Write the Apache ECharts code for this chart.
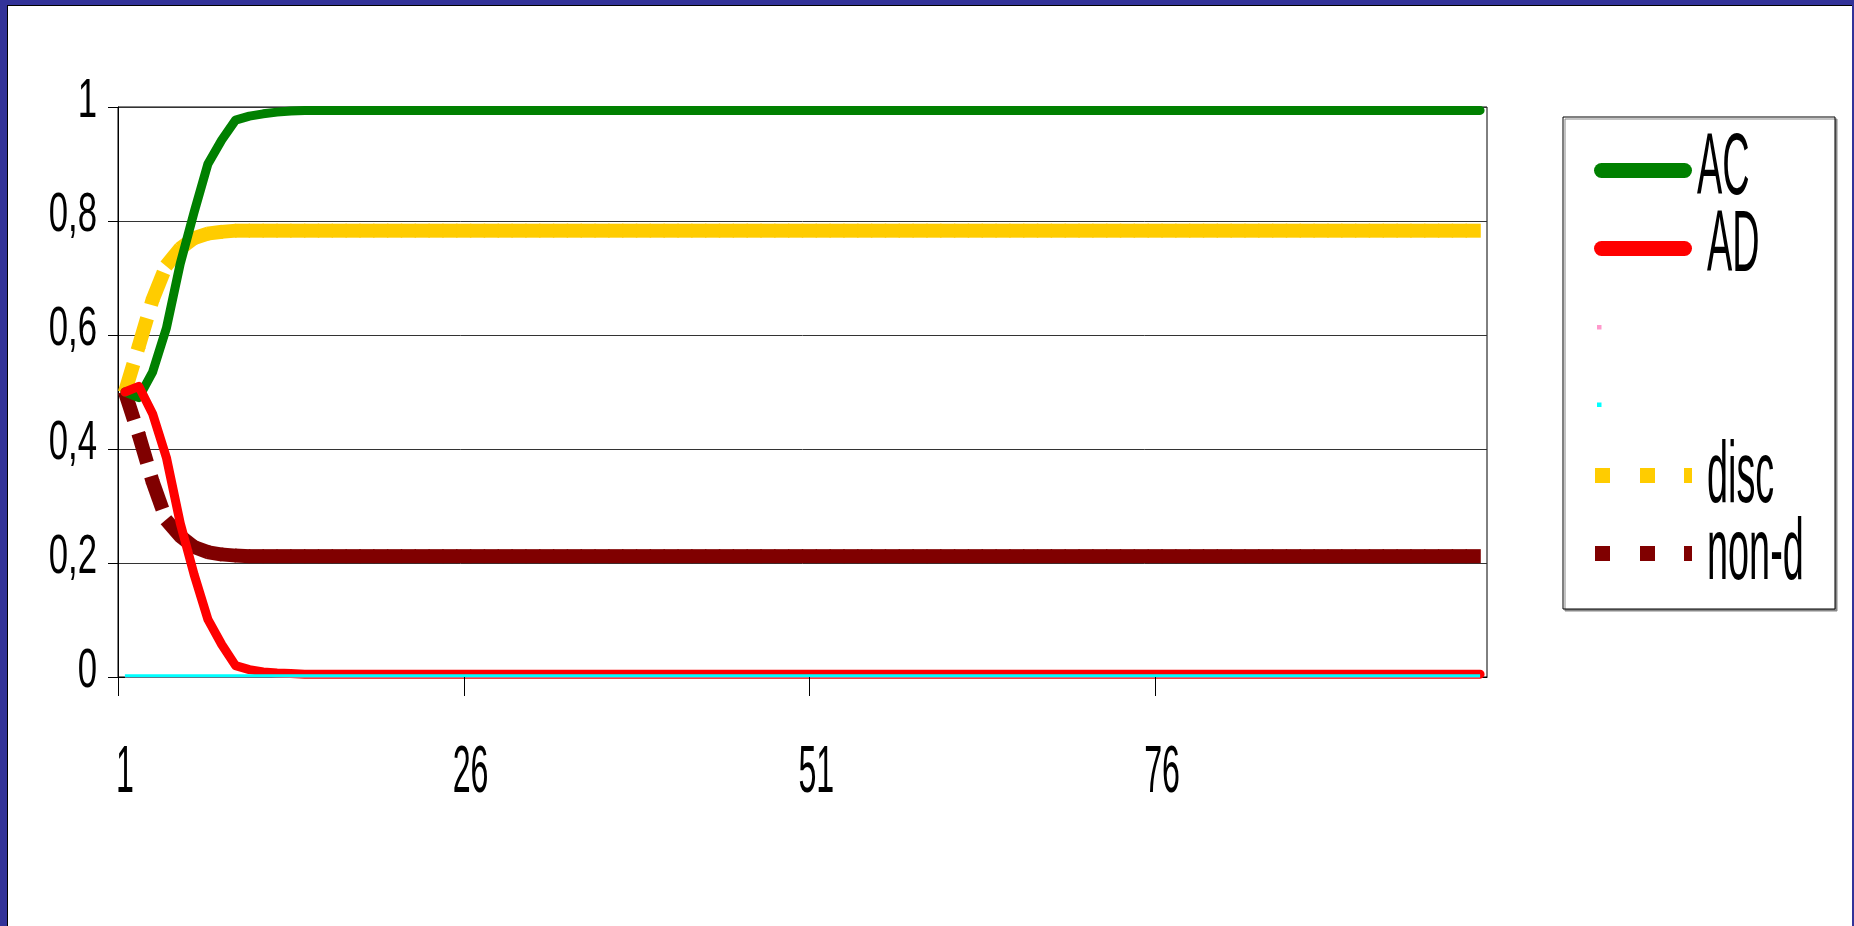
<!DOCTYPE html>
<html>
<head>
<meta charset="utf-8">
<script src="https://cdn.jsdelivr.net/npm/echarts@6/dist/echarts.min.js"></script>
<style>
html, body { margin: 0; padding: 0; width: 1854px; height: 926px; overflow: hidden; background: #333399; }
#frame { position: absolute; left: 7px; top: 5px; width: 1845px; height: 921px; box-sizing: border-box;
         border-left: 1px solid #000; border-top: 1px solid #000; background: #fff; }
#chart { width: 1844px; height: 920px; }
</style>
</head>
<body>
<div id="frame"><div id="chart"></div></div>
<script>
const categories = [
  '1','2','3','4','5','6','7','8','9','10',
  '11','12','13','14','15','16','17','18','19','20',
  '21','22','23','24','25','26','27','28','29','30',
  '31','32','33','34','35','36','37','38','39','40',
  '41','42','43','44','45','46','47','48','49','50',
  '51','52','53','54','55','56','57','58','59','60',
  '61','62','63','64','65','66','67','68','69','70',
  '71','72','73','74','75','76','77','78','79','80',
  '81','82','83','84','85','86','87','88','89','90',
  '91','92','93','94','95','96','97','98','99'
];

const xTickLabels = ['1', '26', '51', '76'];
const yTickValues = [0, 0.2, 0.4, 0.6, 0.8, 1];
const yTickLabels = ['0', '0,2', '0,4', '0,6', '0,8', '1'];

const ac = [
  0.5, 0.49, 0.535, 0.612, 0.725, 0.815, 0.9, 0.942, 0.977, 0.984,
  0.988, 0.991, 0.993, 0.994, 0.994, 0.994, 0.994, 0.994, 0.994, 0.994,
  0.994, 0.994, 0.994, 0.994, 0.994, 0.994, 0.994, 0.994, 0.994, 0.994,
  0.994, 0.994, 0.994, 0.994, 0.994, 0.994, 0.994, 0.994, 0.994, 0.994,
  0.994, 0.994, 0.994, 0.994, 0.994, 0.994, 0.994, 0.994, 0.994, 0.994,
  0.994, 0.994, 0.994, 0.994, 0.994, 0.994, 0.994, 0.994, 0.994, 0.994,
  0.994, 0.994, 0.994, 0.994, 0.994, 0.994, 0.994, 0.994, 0.994, 0.994,
  0.994, 0.994, 0.994, 0.994, 0.994, 0.994, 0.994, 0.994, 0.994, 0.994,
  0.994, 0.994, 0.994, 0.994, 0.994, 0.994, 0.994, 0.994, 0.994, 0.994,
  0.994, 0.994, 0.994, 0.994, 0.994, 0.994, 0.994, 0.994, 0.994
];

const ad = [
  0.5, 0.51, 0.462, 0.385, 0.27, 0.18, 0.101, 0.057, 0.02, 0.013,
  0.009, 0.007, 0.006, 0.005, 0.005, 0.005, 0.005, 0.005, 0.005, 0.005,
  0.005, 0.005, 0.005, 0.005, 0.005, 0.005, 0.005, 0.005, 0.005, 0.005,
  0.005, 0.005, 0.005, 0.005, 0.005, 0.005, 0.005, 0.005, 0.005, 0.005,
  0.005, 0.005, 0.005, 0.005, 0.005, 0.005, 0.005, 0.005, 0.005, 0.005,
  0.005, 0.005, 0.005, 0.005, 0.005, 0.005, 0.005, 0.005, 0.005, 0.005,
  0.005, 0.005, 0.005, 0.005, 0.005, 0.005, 0.005, 0.005, 0.005, 0.005,
  0.005, 0.005, 0.005, 0.005, 0.005, 0.005, 0.005, 0.005, 0.005, 0.005,
  0.005, 0.005, 0.005, 0.005, 0.005, 0.005, 0.005, 0.005, 0.005, 0.005,
  0.005, 0.005, 0.005, 0.005, 0.005, 0.005, 0.005, 0.005, 0.005
];

const series3 = [
  0.001, 0.001, 0.001, 0.001, 0.001, 0.001, 0.001, 0.001, 0.001, 0.001,
  0.001, 0.001, 0.001, 0.001, 0.001, 0.001, 0.001, 0.001, 0.001, 0.001,
  0.001, 0.001, 0.001, 0.001, 0.001, 0.001, 0.001, 0.001, 0.001, 0.001,
  0.001, 0.001, 0.001, 0.001, 0.001, 0.001, 0.001, 0.001, 0.001, 0.001,
  0.001, 0.001, 0.001, 0.001, 0.001, 0.001, 0.001, 0.001, 0.001, 0.001,
  0.001, 0.001, 0.001, 0.001, 0.001, 0.001, 0.001, 0.001, 0.001, 0.001,
  0.001, 0.001, 0.001, 0.001, 0.001, 0.001, 0.001, 0.001, 0.001, 0.001,
  0.001, 0.001, 0.001, 0.001, 0.001, 0.001, 0.001, 0.001, 0.001, 0.001,
  0.001, 0.001, 0.001, 0.001, 0.001, 0.001, 0.001, 0.001, 0.001, 0.001,
  0.001, 0.001, 0.001, 0.001, 0.001, 0.001, 0.001, 0.001, 0.001
];

const series4 = [
  0.002, 0.002, 0.002, 0.002, 0.002, 0.002, 0.002, 0.002, 0.002, 0.002,
  0.002, 0.002, 0.002, 0.002, 0.002, 0.002, 0.002, 0.002, 0.002, 0.002,
  0.002, 0.002, 0.002, 0.002, 0.002, 0.002, 0.002, 0.002, 0.002, 0.002,
  0.002, 0.002, 0.002, 0.002, 0.002, 0.002, 0.002, 0.002, 0.002, 0.002,
  0.002, 0.002, 0.002, 0.002, 0.002, 0.002, 0.002, 0.002, 0.002, 0.002,
  0.002, 0.002, 0.002, 0.002, 0.002, 0.002, 0.002, 0.002, 0.002, 0.002,
  0.002, 0.002, 0.002, 0.002, 0.002, 0.002, 0.002, 0.002, 0.002, 0.002,
  0.002, 0.002, 0.002, 0.002, 0.002, 0.002, 0.002, 0.002, 0.002, 0.002,
  0.002, 0.002, 0.002, 0.002, 0.002, 0.002, 0.002, 0.002, 0.002, 0.002,
  0.002, 0.002, 0.002, 0.002, 0.002, 0.002, 0.002, 0.002, 0.002
];

const disc = [
  0.5, 0.58, 0.662, 0.722, 0.752, 0.77, 0.778, 0.781, 0.783, 0.783,
  0.783, 0.783, 0.783, 0.783, 0.783, 0.783, 0.783, 0.783, 0.783, 0.783,
  0.783, 0.783, 0.783, 0.783, 0.783, 0.783, 0.783, 0.783, 0.783, 0.783,
  0.783, 0.783, 0.783, 0.783, 0.783, 0.783, 0.783, 0.783, 0.783, 0.783,
  0.783, 0.783, 0.783, 0.783, 0.783, 0.783, 0.783, 0.783, 0.783, 0.783,
  0.783, 0.783, 0.783, 0.783, 0.783, 0.783, 0.783, 0.783, 0.783, 0.783,
  0.783, 0.783, 0.783, 0.783, 0.783, 0.783, 0.783, 0.783, 0.783, 0.783,
  0.783, 0.783, 0.783, 0.783, 0.783, 0.783, 0.783, 0.783, 0.783, 0.783,
  0.783, 0.783, 0.783, 0.783, 0.783, 0.783, 0.783, 0.783, 0.783, 0.783,
  0.783, 0.783, 0.783, 0.783, 0.783, 0.783, 0.783, 0.783, 0.783
];

const nonD = [
  0.5, 0.425, 0.343, 0.275, 0.247, 0.228, 0.219, 0.215, 0.213, 0.212,
  0.212, 0.212, 0.212, 0.212, 0.212, 0.212, 0.212, 0.212, 0.212, 0.212,
  0.212, 0.212, 0.212, 0.212, 0.212, 0.212, 0.212, 0.212, 0.212, 0.212,
  0.212, 0.212, 0.212, 0.212, 0.212, 0.212, 0.212, 0.212, 0.212, 0.212,
  0.212, 0.212, 0.212, 0.212, 0.212, 0.212, 0.212, 0.212, 0.212, 0.212,
  0.212, 0.212, 0.212, 0.212, 0.212, 0.212, 0.212, 0.212, 0.212, 0.212,
  0.212, 0.212, 0.212, 0.212, 0.212, 0.212, 0.212, 0.212, 0.212, 0.212,
  0.212, 0.212, 0.212, 0.212, 0.212, 0.212, 0.212, 0.212, 0.212, 0.212,
  0.212, 0.212, 0.212, 0.212, 0.212, 0.212, 0.212, 0.212, 0.212, 0.212,
  0.212, 0.212, 0.212, 0.212, 0.212, 0.212, 0.212, 0.212, 0.212
];

const seriesNames = ['AC', 'AD', 'Series3', 'Series4', 'disc', 'non-d'];
const hiddenLegendNames = ['Series3', 'Series4'];
const colors = { AC: '#008000', AD: '#FF0000', Series3: '#FF99CC', Series4: '#00FFFF', disc: '#FFCC00', nonD: '#800000' };

const textFont = "'Liberation Sans', Arial, sans-serif";

// legend layout
const LEG = { left: 1555, top: 111, padTop: 25, padLeft: 31, itemW: 98, itemH: 56, gap: 21 };

// Legend icons (98 x 56 boxes; the two leading moveTo points fix the box)
function capsuleIcon(t) {
  return 'path://M0,0M98,56M7.5,' + t + 'L90.5,' + t + 'A7.5,7.5,0,0,1,90.5,' + (t + 15) +
         'L7.5,' + (t + 15) + 'A7.5,7.5,0,0,1,7.5,' + t + 'Z';
}
function dashIcon(t) {
  return 'path://M0,0M98,56M1,' + t + 'h15v15h-15zM46,' + t + 'h15v15h-15zM90,' + t + 'h8v15h-8z';
}
function dotIcon(t) {
  return 'path://M0,0M98,56M3,' + t + 'h4.5v4.5h-4.5z';
}

function dashedSegments(values, color) {
  return function (params, api) {
    const i = params.dataIndex;
    if (i >= values.length - 1) return null;
    const p0 = api.coord([i, values[i]]);
    const p1 = api.coord([i + 1, values[i + 1]]);
    const dx = p1[0] - p0[0], dy = p1[1] - p0[1];
    const len = Math.sqrt(dx * dx + dy * dy) || 1;
    const ex = dx / len * 0.7, ey = dy / len * 0.7;
    return {
      type: 'line',
      shape: { x1: p0[0] - ex, y1: p0[1] - ey, x2: p1[0] + ex, y2: p1[1] + ey },
      style: { stroke: color, fill: null, lineWidth: 14, lineDash: [30, 14], lineCap: 'butt' }
    };
  };
}

const chart = echarts.init(document.getElementById('chart'), null, { renderer: 'canvas' });
chart.setOption({
  animation: false,
  backgroundColor: '#fff',
  grid: { left: 110, top: 101, width: 1369, height: 570, show: true, borderColor: '#000', borderWidth: 1 },
  legend: {
    orient: 'vertical',
    left: LEG.left,
    top: LEG.top,
    selectedMode: false,
    padding: [LEG.padTop, 138, 26, LEG.padLeft],
    itemGap: LEG.gap,
    itemWidth: LEG.itemW,
    itemHeight: LEG.itemH,
    backgroundColor: '#fff',
    borderColor: '#000',
    borderWidth: 1,
    shadowColor: '#888',
    shadowBlur: 0,
    shadowOffsetX: 2,
    shadowOffsetY: 2,
    itemStyle: { borderWidth: 0 },
    textStyle: { fontSize: 12, lineHeight: 12 },
    formatter: function () { return ''; },
    data: [
      { name: seriesNames[0], icon: capsuleIcon(21) },
      { name: seriesNames[1], icon: capsuleIcon(22) },
      { name: seriesNames[2], icon: dotIcon(29) },
      { name: seriesNames[3], icon: dotIcon(29.5) },
      { name: seriesNames[4], icon: dashIcon(18) },
      { name: seriesNames[5], icon: dashIcon(19) }
    ]
  },
  xAxis: {
    type: 'category',
    data: categories,
    boundaryGap: true,
    axisLine: { show: true, lineStyle: { color: '#000', width: 1 } },
    axisTick: { show: false },
    axisLabel: { show: false },
    splitLine: { show: false }
  },
  yAxis: {
    type: 'value',
    min: 0,
    max: 1,
    interval: 0.2,
    axisLine: { show: true, lineStyle: { color: '#000', width: 1 } },
    axisTick: { show: true, length: 10, lineStyle: { color: '#000' } },
    axisLabel: { show: false },
    splitLine: { show: true, lineStyle: { color: '#333', width: 1 } }
  },
  series: [
    { name: seriesNames[0], type: 'line', data: ac, symbol: 'none', itemStyle: { color: colors.AC },
      lineStyle: { color: colors.AC, width: 9, cap: 'round', join: 'round' } },
    { name: seriesNames[1], type: 'line', data: ad, symbol: 'none', itemStyle: { color: colors.AD },
      lineStyle: { color: colors.AD, width: 9, cap: 'round', join: 'round' } },
    { name: seriesNames[2], type: 'line', data: series3, symbol: 'none', itemStyle: { color: colors.Series3 },
      lineStyle: { color: colors.Series3, width: 2 } },
    { name: seriesNames[3], type: 'line', data: series4, symbol: 'none', itemStyle: { color: colors.Series4 },
      lineStyle: { color: colors.Series4, width: 3 } },
    { name: seriesNames[4], type: 'custom', itemStyle: { color: colors.disc },
      data: disc.map(function (v, i) { return [i, v]; }), encode: { x: 0, y: 1 },
      renderItem: dashedSegments(disc, colors.disc) },
    { name: seriesNames[5], type: 'custom', itemStyle: { color: colors.nonD },
      data: nonD.map(function (v, i) { return [i, v]; }), encode: { x: 0, y: 1 },
      renderItem: dashedSegments(nonD, colors.nonD) }
  ]
});

// Condensed tick labels, x ticks and legend labels, positioned through the chart's own axes
(function addLabels() {
  const elements = [];
  const c0 = chart.convertToPixel({ xAxisIndex: 0 }, 0);
  const c1 = chart.convertToPixel({ xAxisIndex: 0 }, 1);
  const band = c1 - c0;
  const axisY = chart.convertToPixel({ yAxisIndex: 0 }, 0);
  const axisX = c0 - band / 2;

  xTickLabels.forEach(function (lbl) {
    const idx = categories.indexOf(lbl);
    const cx = chart.convertToPixel({ xAxisIndex: 0 }, idx);
    const tx = Math.round(cx - band / 2) + 0.5;
    elements.push({ type: 'line', silent: true, z: 10,
      shape: { x1: tx, y1: axisY, x2: tx, y2: axisY + 19 },
      style: { stroke: '#000', lineWidth: 1 } });
    elements.push({ type: 'text', silent: true, x: cx, y: axisY + 97, scaleX: 0.48,
      style: { text: lbl, fontFamily: textFont, fontSize: 67, fill: '#000', align: 'center', verticalAlign: 'middle' } });
  });

  yTickValues.forEach(function (v, k) {
    const py = chart.convertToPixel({ yAxisIndex: 0 }, v);
    elements.push({ type: 'text', silent: true, x: axisX - 21, y: py - 5, scaleX: 0.62,
      style: { text: yTickLabels[k], fontFamily: textFont, fontSize: 56, fill: '#000', align: 'right', verticalAlign: 'middle' } });
  });

  seriesNames.forEach(function (name, i) {
    if (hiddenLegendNames.indexOf(name) >= 0) return;
    const cy = LEG.top + LEG.padTop + i * (LEG.itemH + LEG.gap) + LEG.itemH / 2;
    const lx = LEG.left + LEG.padLeft + LEG.itemW + 5 + (i === 0 ? 0 : 10);
    elements.push({ type: 'text', silent: true, x: lx, y: cy, scaleX: 0.43, z: 20,
      style: { text: name, fontFamily: textFont, fontSize: 88, fill: '#000', align: 'left', verticalAlign: 'middle' } });
  });

  chart.setOption({ graphic: { elements: elements } });
})();
</script>
</body>
</html>
